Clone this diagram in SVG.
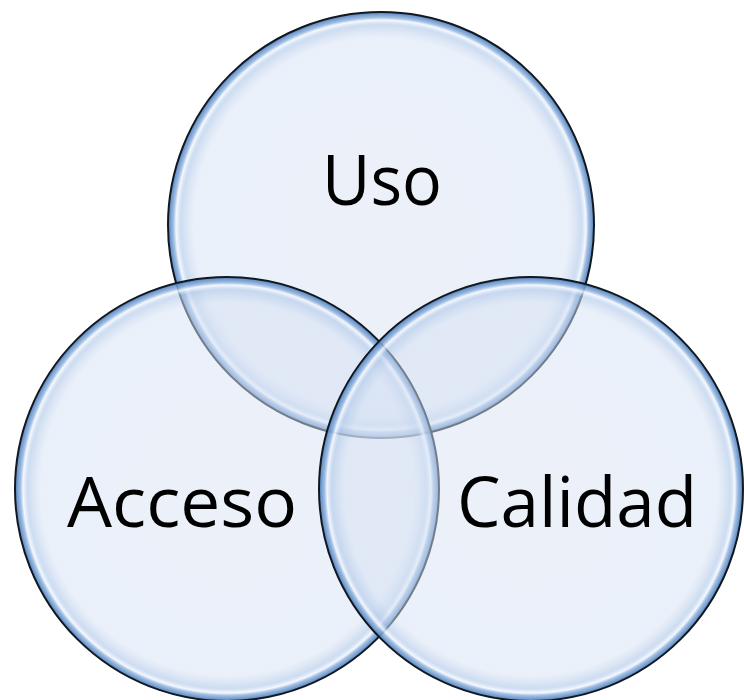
<svg xmlns="http://www.w3.org/2000/svg" width="744" height="700" viewBox="0 0 744 700">
<defs>
<radialGradient id="bubble" cx="0.5" cy="0.5" r="0.5">
<stop offset="0" stop-color="#D8E2F3" stop-opacity="0.5"/>
<stop offset="0.88" stop-color="#D6E1F3" stop-opacity="0.5"/>
<stop offset="0.94" stop-color="#B2CAEA" stop-opacity="0.65"/>
<stop offset="0.962" stop-color="#F4F8FE" stop-opacity="0.9"/>
<stop offset="0.975" stop-color="#8FB2DD" stop-opacity="0.85"/>
<stop offset="1" stop-color="#4A7CBC" stop-opacity="0.95"/>
</radialGradient>
</defs>
<style>
.c{fill:url(#bubble);stroke:#111820;stroke-width:2}
.t{font-family:"Open Sans","Noto Sans","Liberation Sans",sans-serif;font-size:70px;fill:#000;text-anchor:middle}
</style>
<rect width="744" height="700" fill="#fff"/>
<g id="uso">
<circle class="c" cx="381" cy="225" r="213"/>
<text class="t" x="382" y="205" textLength="120" lengthAdjust="spacingAndGlyphs">Uso</text>
</g>
<g id="acceso">
<circle class="c" cx="227" cy="489" r="212"/>
<text class="t" x="182" y="527" textLength="230" lengthAdjust="spacingAndGlyphs">Acceso</text>
</g>
<g id="calidad">
<circle class="c" cx="531" cy="489" r="212"/>
<text class="t" x="577" y="527" textLength="240" lengthAdjust="spacingAndGlyphs">Calidad</text>
</g>
<g id="connectors"/>
</svg>
